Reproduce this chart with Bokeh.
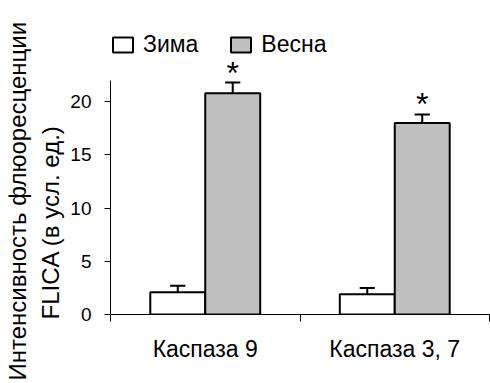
from bokeh.plotting import figure
from bokeh.models import FixedTicker, Legend, LegendItem, ColumnDataSource, Range1d, Title
from bokeh.embed import file_html
from bokeh.resources import INLINE
from bokeh.core.properties import value

categories = ["Каспаза 9", "Каспаза 3, 7"]
series = ["Зима", "Весна"]
winter = [2.1, 1.9]
winter_err = [0.6, 0.6]
spring = [20.8, 18.0]
spring_err = [1.0, 0.8]
spring_mark = ["*", "*"]
y_ticks = [0, 5, 10, 15, 20]
y_axis_max = 22
y_title_1 = "Интенсивность флюоресценции"
y_title_2 = "FLICA (в усл. ед.)"

FONT = "Liberation Sans"
BAR_W = 0.29
CAP = 0.04

centers = [i + 0.5 for i in range(len(categories))]
xw = [c - BAR_W / 2 for c in centers]
xs = [c + BAR_W / 2 for c in centers]

src_w = ColumnDataSource(dict(x=xw, top=winter, err=[v + e for v, e in zip(winter, winter_err)],
                              x0=[x - CAP for x in xw], x1=[x + CAP for x in xw]))
src_s = ColumnDataSource(dict(x=xs, top=spring, err=[v + e for v, e in zip(spring, spring_err)],
                              x0=[x - CAP for x in xs], x1=[x + CAP for x in xs], mark=spring_mark))

p = figure(width=490, height=383, output_backend="svg", toolbar_location=None,
           x_range=Range1d(0, len(categories)), y_range=Range1d(0, 27.63),
           min_border_left=110, min_border_top=20, min_border_bottom=69, min_border_right=1)
p.outline_line_color = None
p.xgrid.visible = False
p.ygrid.visible = False
p.background_fill_color = "white"
p.border_fill_color = "white"

for src in (src_w, src_s):
    p.segment(x0="x", y0="top", x1="x", y1="err", source=src, line_color="black", line_width=2)
    p.segment(x0="x0", y0="err", x1="x1", y1="err", source=src, line_color="black", line_width=2)

r_w = p.vbar(x="x", top="top", width=BAR_W, bottom=0, source=src_w,
             fill_color="white", line_color="black", line_width=2)
r_s = p.vbar(x="x", top="top", width=BAR_W, bottom=0, source=src_s,
             fill_color="#c0c0c0", line_color="black", line_width=2)

p.text(x="x", y="err", text="mark", source=src_s, text_align="center",
       text_baseline="alphabetic", y_offset=-10, text_font=value(FONT), text_font_size="32px",
       text_color="black")

# x axis
p.xaxis.ticker = FixedTicker(ticks=centers, minor_ticks=list(range(len(categories) + 1)))
p.xaxis.major_label_overrides = {c: lab for c, lab in zip(centers, categories)}
p.xaxis.major_tick_line_color = None
p.xaxis.major_tick_out = 0
p.xaxis.major_tick_in = 0
p.xaxis.minor_tick_out = 7
p.xaxis.minor_tick_in = 0
p.xaxis.minor_tick_line_color = "black"
p.xaxis.axis_line_color = "black"
p.xaxis.major_label_text_font = FONT
p.xaxis.major_label_text_font_size = "23px"
p.xaxis.major_label_text_color = "black"
p.xaxis.major_label_standoff = 14

# y axis
p.yaxis.ticker = FixedTicker(ticks=y_ticks)
p.yaxis.bounds = (0, y_axis_max)
p.yaxis.minor_tick_line_color = None
p.yaxis.major_tick_out = 6
p.yaxis.major_tick_in = 0
p.yaxis.axis_line_color = "black"
p.yaxis.major_tick_line_color = "black"
p.yaxis.major_label_text_font = FONT
p.yaxis.major_label_text_font_size = "19px"
p.yaxis.major_label_text_color = "black"
p.yaxis.major_label_standoff = 13

# two-line y title, outer line added last
title2 = Title(text=y_title_2, align="left", offset=-5, standoff=8,
               text_font=FONT, text_font_size="24px", text_font_style="normal",
               text_color="black")
title1 = Title(text=y_title_1, align="left", offset=-66, standoff=0,
               text_font=FONT, text_font_size="24px", text_font_style="normal",
               text_color="black")
p.add_layout(title2, "left")
p.add_layout(title1, "left")

legend = Legend(items=[LegendItem(label=series[0], renderers=[r_w]),
                       LegendItem(label=series[1], renderers=[r_s])],
                orientation="horizontal", location=(0, 256),
                glyph_width=25, glyph_height=19, label_standoff=8, spacing=30,
                padding=0, margin=0, border_line_color=None, background_fill_alpha=0,
                label_text_font=FONT, label_text_font_size="23px", label_text_color="black")
p.add_layout(legend, "center")

open("out.html", "w").write(file_html(p, INLINE))
